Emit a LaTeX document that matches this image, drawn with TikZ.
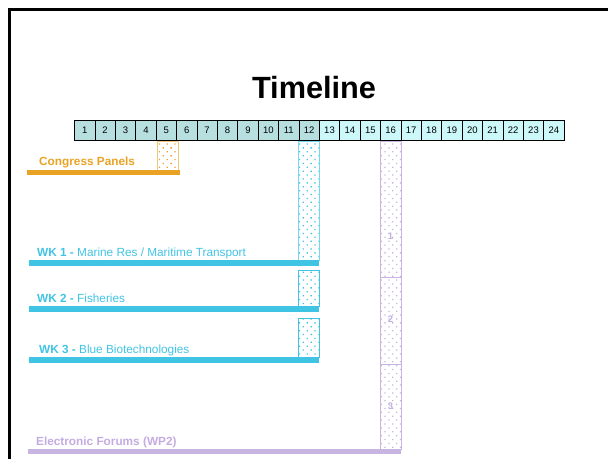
\documentclass[tikz,border=0pt]{standalone}
\usepackage{fontspec}
\setmainfont{Liberation Sans}
\usetikzlibrary{patterns.meta}
\definecolor{orn}{HTML}{E9A224}
\definecolor{cyn}{HTML}{40C4E4}
\definecolor{prp}{HTML}{C8B4E0}
\definecolor{prptxt}{HTML}{C4ACE2}
\definecolor{celldark}{HTML}{B8DFE0}
\definecolor{celllight}{HTML}{CCF8FA}
\tikzset{
  cell/.style={draw=black, line width=0.8pt, minimum width=20.4pt, minimum height=20.7pt,
    inner sep=0pt, font=\fontsize{9.5}{10}\selectfont},
  lbl/.style={anchor=base west, inner sep=0pt, font=\fontsize{11.8}{13}\selectfont},
  dotbox/.style={line width=0.7pt, pattern={Dots[distance=5.5pt, angle=45, radius=0.9pt]}},
  num/.style={font=\bfseries\fontsize{9.5}{10}\selectfont, text=prptxt, inner sep=0pt}
}
\begin{document}
\begin{tikzpicture}[x=1pt,y=-1pt]
\useasboundingbox (0,0) rectangle (608,459);
\draw[line width=3pt] (9.5,459) -- (9.5,9.5) -- (608,9.5);
\node[anchor=base, inner sep=0pt, font=\bfseries\fontsize{30.7}{32}\selectfont] (title) at (314,98) {Timeline};
\foreach \i in {1,...,24}{
  \pgfmathsetmacro\cx{74.5+20.4*(\i-0.5)}
  \ifnum\i<13
    \node[cell, fill=celldark] (c\i) at (\cx,130.4) {\i};
  \else
    \node[cell, fill=celllight] (c\i) at (\cx,130.4) {\i};
  \fi
}
% dotted boxes
\draw[dotbox, draw=orn!60, pattern color=orn] (157,141) rectangle (178,172);
\draw[dotbox, draw=cyn!70, pattern color=cyn] (298.5,141) rectangle (319,260);
\draw[dotbox, draw=cyn, pattern color=cyn] (298.5,270) rectangle (319,306);
\draw[dotbox, draw=cyn, pattern color=cyn] (298.5,318) rectangle (319,357);
\draw[dotbox, draw=prp, pattern color=prp] (380,141) rectangle (401,449);
\draw[prp, line width=0.7pt] (380,277) -- (401,277);
\draw[prp, line width=0.7pt] (380,364) -- (401,364);
\node[num] (n1) at (390.5,236) {1};
\node[num] (n2) at (390.5,319) {2};
\node[num] (n3) at (390.5,406) {3};
% bars
\fill[orn] (27,170) rectangle (180,174.5);
\fill[cyn] (29,260) rectangle (319,265.5);
\fill[cyn] (29,306) rectangle (319,311.5);
\fill[cyn] (29,357) rectangle (319,362.5);
\fill[prp] (28,449) rectangle (401,454);
% labels
\node[lbl, text=orn] (cp) at (39,165) {\bfseries Congress Panels};
\node[lbl, text=cyn] (wk1) at (37,256.7) {\textbf{WK 1 -} Marine Res / Maritime Transport};
\node[lbl, text=cyn] (wk2) at (37,302.7) {\textbf{WK 2 -} Fisheries};
\node[lbl, text=cyn] (wk3) at (39,353) {\textbf{WK 3 -} Blue Biotechnologies};
\node[lbl, text=prptxt] (ef) at (36,445.7) {\bfseries Electronic Forums (WP2)};
\end{tikzpicture}
\end{document}
